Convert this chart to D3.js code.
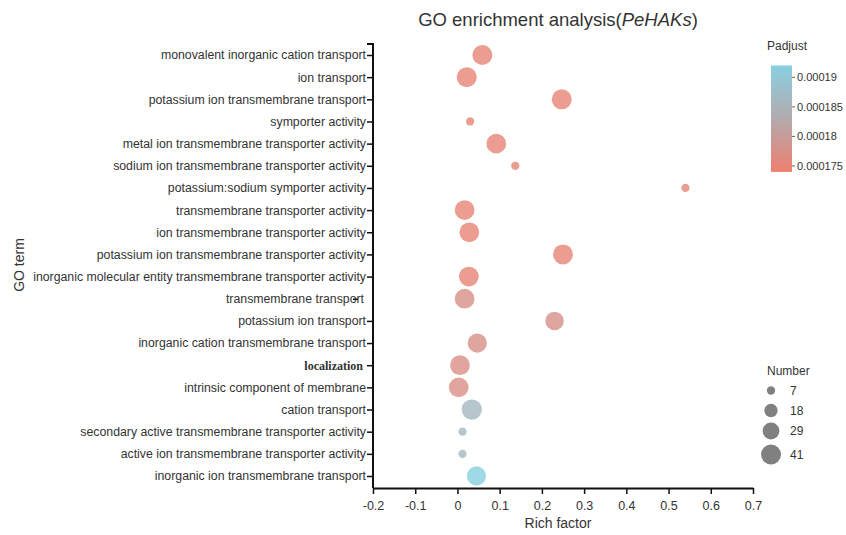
<!DOCTYPE html>
<html>
<head>
<meta charset="utf-8">
<script src="https://cdn.jsdelivr.net/npm/d3@7"></script>
<style>
  body { margin: 0; background: #fff; }
  text { font-family: "Liberation Sans", Arial, sans-serif; fill: #333; }
</style>
</head>
<body>
<svg id="chart" width="846" height="535"></svg>
<script>
'use strict';

// GO terms, top to bottom
var terms = [
  'monovalent inorganic cation transport',
  'ion transport',
  'potassium ion transmembrane transport',
  'symporter activity',
  'metal ion transmembrane transporter activity',
  'sodium ion transmembrane transporter activity',
  'potassium:sodium symporter activity',
  'transmembrane transporter activity',
  'ion transmembrane transporter activity',
  'potassium ion transmembrane transporter activity',
  'inorganic molecular entity transmembrane transporter activity',
  'transmembrane transport',
  'potassium ion transport',
  'inorganic cation transmembrane transport',
  'localization',
  'intrinsic component of membrane',
  'cation transport',
  'secondary active transmembrane transporter activity',
  'active ion transmembrane transporter activity',
  'inorganic ion transmembrane transport'
];
var richFactor = [0.059, 0.022, 0.247, 0.030, 0.092, 0.137, 0.540, 0.017, 0.028, 0.250,
                  0.027, 0.017, 0.230, 0.047, 0.006, 0.003, 0.034, 0.012, 0.012, 0.045];
var geneNumber = [41, 41, 41, 7, 40, 7, 7, 40, 40, 41,
                  40, 40, 35, 38, 40, 40, 42, 7, 7, 38];
var padjust = [0.000175, 0.000175, 0.000175, 0.000175, 0.000175, 0.000175, 0.000175, 0.000175, 0.000175, 0.000175,
               0.000175, 0.0001775, 0.0001775, 0.0001775, 0.0001772, 0.0001772, 0.000186, 0.000186, 0.000186, 0.000192];

var xTicks = [-0.2, -0.1, 0, 0.1, 0.2, 0.3, 0.4, 0.5, 0.6, 0.7];
var padTicks = [0.000175, 0.00018, 0.000185, 0.00019];
var sizeLegend = [7, 18, 29, 41];

var svg = d3.select('#chart');
var plotLeft = 373, plotRight = 753, plotTop = 43, plotBottom = 488;

var x = d3.scaleLinear().domain([-0.2, 0.7]).range([plotLeft, plotRight]);
var y = d3.scalePoint().domain(terms).range([55, 476]);
var r = d3.scaleSqrt().domain([0, 41]).range([0, 10]);
var color = d3.scaleLinear()
  .domain([0.000174, 0.000183, 0.000192])
  .range(['#ee7f6e', '#b3aaae', '#88d0e0']);

// title
var title = svg.append('text')
  .attr('x', 558).attr('y', 26)
  .attr('text-anchor', 'middle')
  .style('font-size', '18.5px');
title.append('tspan').text('GO enrichment analysis(');
title.append('tspan').style('font-style', 'italic').text('PeHAKs');
title.append('tspan').text(')');

// points
svg.append('g').selectAll('circle')
  .data(terms)
  .enter()
  .append('circle')
  .attr('cx', function(d, i) { return x(richFactor[i]); })
  .attr('cy', function(d) { return y(d); })
  .attr('r', function(d, i) { return r(geneNumber[i]); })
  .attr('fill', function(d, i) { return color(padjust[i]); })
  .attr('fill-opacity', 0.8);

// x axis
var xAxis = svg.append('g')
  .attr('transform', 'translate(0,' + plotBottom + ')')
  .call(d3.axisBottom(x).tickValues(xTicks).tickSize(6).tickSizeOuter(0)
    .tickFormat(function(d) { return String(+d.toFixed(1)); }));
xAxis.select('.domain').attr('stroke', '#111').attr('stroke-width', 2);
xAxis.selectAll('.tick line').attr('stroke', '#111').attr('stroke-width', 1.5);
xAxis.selectAll('.tick text').style('font-size', '12.5px').attr('dy', '1.05em').attr('fill', '#333');

// y axis
var yAxis = svg.append('g')
  .attr('transform', 'translate(' + plotLeft + ',0)')
  .call(d3.axisLeft(y).tickSize(6).tickSizeOuter(0));
yAxis.select('.domain').attr('stroke', '#111').attr('stroke-width', 2)
  .attr('d', 'M0,' + plotTop + 'V' + plotBottom);
yAxis.selectAll('.tick line').attr('stroke', '#111').attr('stroke-width', 1.5);
yAxis.selectAll('.tick text').style('font-size', '12.3px').attr('fill', '#333').attr('x', -7);
yAxis.append('line').attr('x1', -6).attr('x2', 0).attr('y1', plotTop + 1).attr('y2', plotTop + 1)
  .attr('stroke', '#111').attr('stroke-width', 2);
yAxis.selectAll('.tick text')
  .filter(function(d) { return d === 'localization'; })
  .style('font-family', '"Liberation Serif", "Times New Roman", serif')
  .style('font-weight', 'bold')
  .style('font-size', '12px')
  .attr('x', -10);
yAxis.selectAll('.tick')
  .filter(function(d) { return d === 'transmembrane transport'; })
  .each(function() {
    d3.select(this).select('text').attr('x', -9);
    d3.select(this).select('line').attr('x1', -20).attr('x2', -15);
  });

// axis titles
svg.append('text')
  .attr('x', 558).attr('y', 528)
  .attr('text-anchor', 'middle')
  .style('font-size', '14px')
  .text('Rich factor');
svg.append('text')
  .attr('transform', 'translate(24,265) rotate(-90)')
  .attr('text-anchor', 'middle')
  .style('font-size', '14px')
  .text('GO term');

// Padjust legend
var grad = svg.append('defs').append('linearGradient')
  .attr('id', 'padGrad').attr('x1', 0).attr('x2', 0).attr('y1', 1).attr('y2', 0);
grad.selectAll('stop')
  .data([0.000174, 0.000183, 0.000192])
  .enter().append('stop')
  .attr('offset', function(d) { return (d - 0.000174) / (0.000192 - 0.000174); })
  .attr('stop-color', function(d) { return color(d); });

var py = d3.scaleLinear().domain([0.000175, 0.00019]).range([166, 77.3]);
svg.append('text').attr('x', 767).attr('y', 50).style('font-size', '12px').text('Padjust');
svg.append('rect')
  .attr('x', 771).attr('y', py(0.000192))
  .attr('width', 21).attr('height', py(0.000174) - py(0.000192))
  .attr('fill', 'url(#padGrad)');
var padLeg = svg.append('g').selectAll('g')
  .data(padTicks)
  .enter().append('g')
  .attr('transform', function(d) { return 'translate(792,' + py(d) + ')'; });
padLeg.append('line').attr('x1', 0).attr('x2', 3).attr('stroke', '#666');
padLeg.append('text').attr('x', 5).attr('dy', '0.35em').style('font-size', '11px')
  .text(function(d) { return +d.toPrecision(3); });

// Number legend
svg.append('text').attr('x', 767).attr('y', 375).style('font-size', '12px').text('Number');
var sizeY = [390.5, 410.5, 431, 454.5];
var sLeg = svg.append('g').selectAll('g')
  .data(sizeLegend)
  .enter().append('g')
  .attr('transform', function(d, i) { return 'translate(771,' + sizeY[i] + ')'; });
sLeg.append('circle').attr('r', function(d) { return r(d); }).attr('fill', '#808080');
sLeg.append('text').attr('x', 19).attr('dy', '0.35em').style('font-size', '12px')
  .text(function(d) { return d; });
</script>
</body>
</html>
